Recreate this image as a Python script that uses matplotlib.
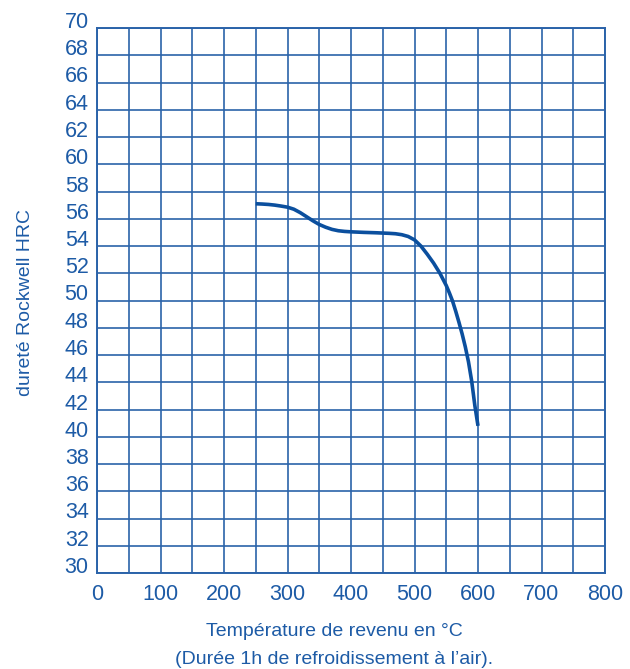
import matplotlib
matplotlib.use("Agg")
import matplotlib.pyplot as plt
from matplotlib.ticker import MultipleLocator

# Data
temperature = [250, 260, 270, 280, 290, 300, 310, 320, 330, 340, 350, 360, 370, 380,
               390, 400, 420, 440, 460, 470, 480, 490, 500, 510, 520, 530, 540, 550,
               555, 560, 565, 570, 575, 580, 585, 590, 595, 600]
hardness = [57.1, 57.08, 57.05, 57.0, 56.93, 56.85, 56.7, 56.45, 56.15, 55.85, 55.58,
            55.38, 55.22, 55.12, 55.07, 55.04, 55.0, 54.97, 54.93, 54.9, 54.83, 54.7,
            54.45, 54.0, 53.4, 52.75, 52.0, 51.1, 50.55, 49.95, 49.2, 48.4, 47.55,
            46.6, 45.5, 44.1, 42.3, 40.8]
x_ticks = [0, 100, 200, 300, 400, 500, 600, 700, 800]
y_ticks = list(range(30, 71, 2))

xlabel_line1 = "Température de revenu en °C"
xlabel_line2 = "(Durée 1h de refroidissement à l’air)."
ylabel = "dureté Rockwell HRC"

GRID = "#2b63a9"
CURVE = "#0b4f9e"
TEXT = "#1d5ba6"

plt.rcParams['font.family'] = ['Liberation Sans', 'DejaVu Sans']

fig = plt.figure(figsize=(6.3, 6.69), dpi=100)
ax = fig.add_axes([97/630, 1 - 573/669, 508/630, 545/669])

ax.set_xlim(0, 800)
ax.set_ylim(30, 70)
ax.xaxis.set_minor_locator(MultipleLocator(50))
ax.yaxis.set_minor_locator(MultipleLocator(2))
ax.set_xticks(x_ticks)
ax.set_yticks(y_ticks)
ax.set_yticklabels([str(v) for v in y_ticks])
ax.grid(True, which='both', color=GRID, linewidth=1.2)
ax.set_axisbelow(True)
for s in ax.spines.values():
    s.set_color(GRID)
    s.set_linewidth(1.4)

ax.tick_params(axis='both', which='both', length=0, colors=TEXT, labelsize=15.5)
ax.tick_params(axis='x', pad=8)
ax.tick_params(axis='y', pad=6)
for lab in ax.get_yticklabels():
    lab.set_va('baseline')

ax.plot(temperature, hardness, color=CURVE, linewidth=2.6, solid_capstyle='butt',
        solid_joinstyle='round')

narrow = ['Liberation Sans Narrow', 'Liberation Sans', 'DejaVu Sans']
fig.text(334/630, 1 - 632/669, xlabel_line1, ha='center', va='center', color=TEXT,
         fontsize=14, family=narrow)
fig.text(334/630, 1 - 659/669, xlabel_line2, ha='center', va='center', color=TEXT,
         fontsize=14, family=narrow)
fig.text(26/630, 1 - 302/669, ylabel, ha='center', va='center', rotation=90,
         color=TEXT, fontsize=14, family=narrow)

fig.savefig("out.png", dpi=100)
